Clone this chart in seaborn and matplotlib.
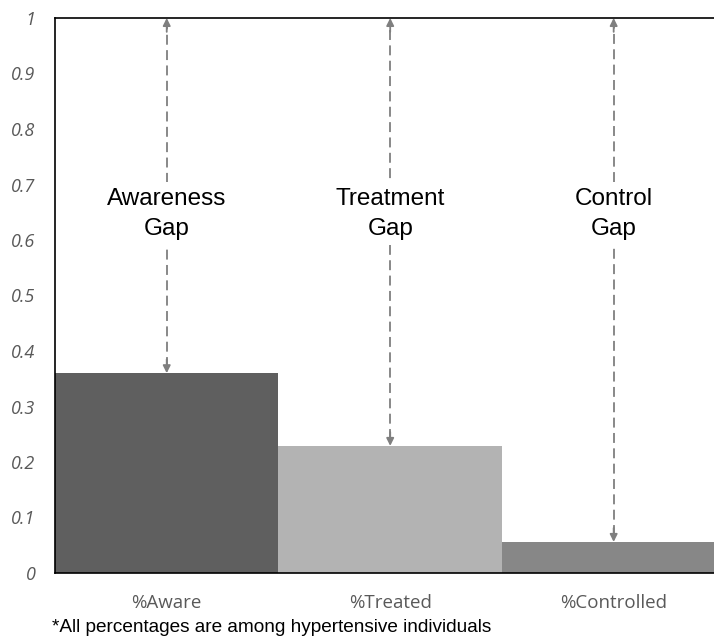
import matplotlib
matplotlib.use("Agg")
import matplotlib.pyplot as plt
import seaborn as sns
import pandas as pd
from matplotlib.ticker import FuncFormatter

# data
categories = ["%Aware", "%Treated", "%Controlled"]
proportions = [0.36, 0.229, 0.056]
bar_colors = ["#5f5f5f", "#b3b3b3", "#878787"]
gap_labels = ["Awareness\nGap", "Treatment\nGap", "Control\nGap"]
footnote = "*All percentages are among hypertensive individuals"

df = pd.DataFrame({"Category": categories, "Proportion": proportions})

sns.set_theme(style="white")
plt.rcParams["font.family"] = ["Liberation Sans", "DejaVu Sans"]

fig = plt.figure(figsize=(7.14, 6.39), dpi=100)
ax = fig.add_axes([55 / 714, 1 - 573 / 639, 1 - 55 / 714, 555 / 639])

sns.barplot(data=df, x="Category", y="Proportion", hue="Category",
            palette=bar_colors, width=1.0, saturation=1, legend=False,
            linewidth=0, ax=ax)

ax.set_ylim(0, 1)
ax.set_xlim(-0.5, 2.449)
ax.set_yticks([i / 10 for i in range(11)])
ax.yaxis.set_major_formatter(FuncFormatter(lambda v, p: f"{v:g}"))
ax.tick_params(axis="y", length=0, pad=14, labelsize=13, labelcolor="#595959")
ax.tick_params(axis="x", length=0, pad=15, labelsize=13.5, labelcolor="#595959")
for lab in ax.get_yticklabels():
    lab.set_fontstyle("italic")
    lab.set_family("Open Sans")
for lab in ax.get_xticklabels():
    lab.set_family("Open Sans")
ax.set_xlabel("")
ax.set_ylabel("")

for side in ["left", "top", "bottom"]:
    ax.spines[side].set_visible(True)
    ax.spines[side].set_color("black")
    ax.spines[side].set_linewidth(1.2)
ax.spines["right"].set_visible(False)

# dashed double arrows showing the gap up to 100%
arrow_color = "#7f7f7f"
for i, (val, lab) in enumerate(zip(proportions, gap_labels)):
    ax.plot([i, i], [val + 0.012, 1 - 0.012], color=arrow_color, lw=1.3,
            dashes=(5.5, 3), zorder=3)
    for tip, start in [(1.0, 0.975), (val, val + 0.025)]:
        ax.annotate("", xy=(i, tip), xytext=(i, start),
                    arrowprops=dict(arrowstyle="-|>", color=arrow_color,
                                    lw=1.3, mutation_scale=11,
                                    shrinkA=0, shrinkB=0), zorder=4)
    ax.text(i, 0.647, lab, ha="center", va="center", fontsize=17.5,
            color="black", linespacing=1.45, zorder=5,
            bbox=dict(facecolor="white", edgecolor="none", pad=4))

fig.text(52 / 714, 1 - 627 / 639, footnote, ha="left", va="center",
         fontsize=13.7, color="black")

fig.savefig("out.png", dpi=100)
